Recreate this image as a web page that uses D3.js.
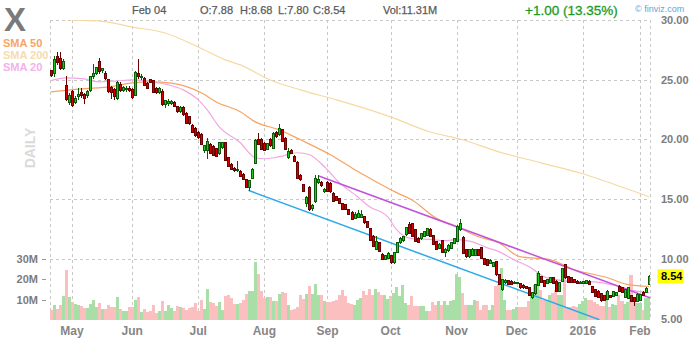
<!DOCTYPE html>
<html>
<head>
<meta charset="utf-8">
<script src="https://cdn.jsdelivr.net/npm/d3@7"></script>
<style>
  body { margin: 0; background: #fff; }
  svg { display: block; font-family: "Liberation Sans", Arial, sans-serif; }
</style>
</head>
<body>
<div id="chart"></div>
<script>
// daily candles, Apr 22 2015 .. Feb 04 2016, [open, high, low, close]
var ohlc = [
  [25.75,25.85,25.2,25.35],[25.5,27.0,25.25,26.65],[26.95,27.3,26.2,26.4],[26.8,27.3,25.8,25.9],[25.9,26.7,25.8,26.5],
  [24.5,25.3,23.2,23.35],[23.1,23.9,22.9,23.7],[24.0,24.1,22.7,22.85],[23.1,23.6,23.0,23.45],[23.6,24.3,23.3,23.75],
  [23.9,24.3,23.5,23.65],[23.75,23.9,22.95,23.45],[23.7,24.1,23.5,24.0],[24.1,25.3,24.0,25.25],[25.25,26.3,25.1,25.55],
  [25.55,26.1,25.4,26.05],[26.55,26.8,25.5,25.7],[25.75,26.0,25.6,25.9],[25.55,25.7,25.0,25.1],[25.0,25.1,23.9,24.0],
  [24.35,24.5,23.4,23.9],[24.2,24.3,23.3,23.6],[23.4,24.9,23.3,24.8],[24.6,24.8,24.0,24.1],[24.1,24.5,24.0,24.35],
  [24.15,24.45,24.0,24.3],[24.3,24.5,24.0,24.1],[24.15,24.3,23.4,23.55],[23.7,25.7,23.6,25.6],[25.5,26.75,25.1,25.25],
  [25.2,25.5,25.0,25.3],[25.1,25.2,24.5,24.55],[24.65,24.8,24.2,24.3],[25.0,25.1,24.7,24.8],[24.9,25.0,23.9,23.95],
  [24.3,24.4,23.8,23.9],[23.95,24.4,23.8,24.3],[24.05,24.2,22.8,22.95],[22.9,23.3,22.6,23.25],[23.0,23.4,22.8,23.2],
  [23.0,23.3,22.9,23.2],[23.1,23.2,22.7,22.75],[22.75,22.8,22.2,22.3],[22.3,22.8,22.2,22.7],[22.7,22.8,22.0,22.05],
  [22.2,22.3,21.3,21.35],[21.9,22.0,21.2,21.3],[21.2,21.3,20.5,20.6],[20.95,21.0,20.2,20.3],[20.6,20.7,20.0,20.15],
  [20.4,20.5,19.5,19.55],[19.1,19.5,18.9,19.45],[19.1,20.1,18.4,19.8],[19.55,19.7,18.8,18.85],[19.4,19.5,18.6,18.65],
  [19.2,19.3,18.5,18.6],[18.85,19.8,18.7,19.75],[19.35,19.8,19.2,19.7],[19.7,19.8,18.2,18.25],[18.45,18.5,17.7,17.75],
  [17.9,18.0,17.45,17.5],[17.6,17.7,17.3,17.4],[17.4,18.2,17.3,17.5],[17.3,17.4,16.85,16.9],[17.1,17.2,16.6,16.65],
  [16.6,16.7,15.9,16.0],[15.95,16.6,15.7,16.55],[16.75,17.6,16.7,17.5],[18.0,20.0,17.9,19.9],[20.0,20.5,19.55,19.6],
  [20.0,20.1,19.1,19.13],[19.69,19.8,19.0,19.07],[19.19,19.7,19.1,19.63],[19.97,20.1,19.4,19.46],[19.27,20.6,19.2,20.52],
  [20.58,20.7,20.1,20.24],[20.38,21.3,20.3,20.94],[20.8,20.9,19.8,19.83],[20.1,20.2,19.1,19.13],[18.5,19.3,18.4,18.99],
  [19.1,19.2,18.8,18.85],[18.57,18.7,18.1,18.15],[18.1,18.2,16.7,16.76],[16.96,17.1,16.55,16.62],[16.2,16.3,15.6,15.65],
  [14.6,15.3,14.3,15.1],[16.0,16.1,14.0,14.1],[14.25,14.6,14.0,14.5],[14.8,17.04,14.7,16.76],[16.4,17.0,16.3,16.68],
  [16.4,16.5,16.0,16.12],[15.6,15.9,15.5,15.8],[16.35,16.5,15.6,15.65],[16.3,16.4,15.5,15.6],[15.5,15.6,14.75,14.8],
  [15.2,15.3,14.8,14.9],[15.03,15.1,14.6,14.67],[14.6,14.7,14.05,14.1],[14.53,14.6,14.05,14.11],[14.1,14.2,13.65,13.7],
  [13.89,14.0,13.3,13.33],[13.4,13.9,13.3,13.7],[13.5,14.1,13.4,13.8],[13.45,14.1,13.4,13.75],[13.56,13.6,12.95,13.0],
  [13.14,13.2,12.6,12.64],[12.5,12.6,11.5,11.55],[11.9,12.0,11.0,11.05],[10.77,11.9,10.7,11.47],[11.33,11.4,10.6,10.63],
  [10.35,10.45,9.9,9.93],[9.95,10.35,9.9,10.3],[10.0,10.6,9.95,10.45],[10.27,10.35,9.6,9.71],[9.65,10.55,9.6,10.49],
  [10.55,11.4,10.5,11.33],[11.33,11.8,11.2,11.74],[11.5,11.95,11.4,11.85],[12.0,12.65,11.9,12.58],[12.86,13.1,12.1,12.16],
  [12.94,13.0,11.85,11.88],[12.44,12.5,11.4,11.47],[11.74,11.8,11.3,11.38],[11.74,12.2,11.6,12.16],[11.9,12.3,11.8,12.25],
  [11.95,12.6,11.9,12.5],[12.45,12.6,11.85,11.9],[11.94,12.0,11.15,11.19],[11.47,11.5,10.7,10.77],[10.85,11.3,10.8,11.2],
  [11.52,11.6,10.45,10.49],[10.55,10.9,10.15,10.8],[10.7,11.2,10.6,11.1],[10.9,11.4,10.8,11.33],[11.3,11.75,11.2,11.66],
  [11.47,12.8,11.4,12.72],[12.44,13.33,12.3,12.95],[11.8,11.9,10.4,10.45],[10.77,10.85,10.1,10.16],[10.2,10.85,10.1,10.8],
  [10.3,10.9,10.2,10.82],[10.25,10.85,10.2,10.8],[10.77,10.85,10.2,10.27],[10.91,11.0,9.95,9.99],[9.99,10.05,9.45,9.52],
  [9.93,10.0,9.4,9.43],[9.6,9.95,9.55,9.85],[9.38,9.75,9.3,9.65],[9.75,9.8,8.6,8.68],[8.68,8.75,7.8,7.84],
  [7.42,8.3,7.3,8.26],[8.0,8.3,7.9,8.2],[8.17,8.25,7.8,7.84],[8.1,8.2,7.8,7.86],[7.9,8.1,7.85,8.05],
  [7.95,8.05,7.9,8.0],[7.9,8.0,7.5,7.56],[7.8,7.85,7.5,7.56],[7.7,7.75,7.5,7.55],[7.56,7.6,6.85,6.92],
  [6.73,7.2,6.65,7.14],[7.09,7.9,7.0,7.84],[7.76,9.0,7.7,8.76],[8.48,8.55,8.0,8.04],[8.2,8.25,7.65,7.7],
  [7.9,8.35,7.85,8.3],[8.05,8.5,8.0,8.4],[8.4,8.5,7.9,7.95],[8.12,8.2,7.25,7.28],[7.28,8.05,7.2,7.98],
  [8.12,9.2,8.05,9.15],[9.51,9.6,8.35,8.4],[8.54,8.6,7.95,8.0],[8.4,8.45,7.95,8.0],[8.25,8.3,8.0,8.05],
  [8.1,8.2,7.85,7.9],[7.9,8.1,7.85,8.05],[7.9,8.15,7.85,8.1],[7.95,8.2,7.9,8.2],[8.1,8.2,7.8,7.85],
  [7.65,7.7,7.1,7.15],[7.42,7.5,6.8,6.87],[7.3,7.35,6.7,6.75],[7.09,7.15,6.35,6.53],[6.9,6.95,6.5,6.53],
  [6.59,7.35,6.55,7.28],[6.92,7.0,6.7,6.73],[6.87,7.3,6.8,7.28],[6.9,7.2,6.85,7.15],[7.7,7.8,7.2,7.28],
  [7.56,7.6,7.1,7.15],[6.73,7.5,6.7,7.42],[6.65,7.6,6.6,7.56],[6.9,7.0,6.4,6.45],[6.73,6.8,6.03,6.45],
  [6.45,7.1,6.4,7.01],[6.5,7.05,6.45,7.0],[7.2,7.3,6.9,6.95],[7.15,7.6,7.1,7.54],[7.88,8.68,7.80,8.54]
];

// daily volume, millions of shares
var volumes = [
  5,7.5,5.3,7.5,12,24.5,11.5,8.7,8,7.5, 7,6,6,8,10,6.5,8.5,5.5,5.5,7.5,
  6.5,6.5,11.5,5.5,4.5,4.2,6.5,6.5,10,11.5, 4,5.5,4,4.5,7.5,3.5,4.5,9.5,4.5,7.5,
  6,4.5,7,6.5,6,5,6,6.5,8.5,4.5, 10,5.5,15.5,9,8.5,7,9,5,12,12.5,
  11,8,8,8.5,10,13,14.5,14.5,28.8,22.5, 14.2,10.8,11.2,11.2,9.5,9.5,13,14,13.5,7.5,
  4.7,5.3,6.5,12.5,10.3,12.8,17,12.8,18,12.5, 12.5,9.2,8.7,8.7,9.2,9.7,12.2,15,11.7,8.3,
  8,7.5,9.7,10.8,14.2,12.5,15.5,12.5,15.5,14, 12.5,12.5,10.3,12,13.3,16.2,11.7,17.5,8.3,7.5,
  11.7,7,6.7,7,6.7,4.2,4.2,9,7.2,9.2, 7.5,9.2,7.5,9.2,10,22.5,21.3,13.3,7.5,7.5,
  7.5,10,9.5,5,7.5,7.5,5,7.5,16.7,18, 25.8,10,5,5,5.5,6.5,6.5,6.5,6.5,9.2,
  12.5,17.5,23,15,10,10,12.5,13.5,15,12.5, 12.5,21.7,6.5,6.5,7,6.5,8,9.2,10.8,10,
  10,9,8,7,7,14,6.5,8,7.5,12.5, 9.2,8,9,22,9.5,8.5,8.5,5,10.8,11.31
];

var monthLabels = ["May", "Jun", "Jul", "Aug", "Sep", "Oct", "Nov", "Dec", "2016", "Feb"];
var monthStart  = [7, 27, 49, 71, 92, 113, 135, 155, 177, 196];

var priceTicks = [5, 10, 15, 20, 25, 30];
var volTicks = [10, 20, 30];

// moving averages, [day index, price]
var sma20 = [[0,24.92],[5,25.15],[11,25.07],[16,24.82],[22,24.9],[27,24.98],[33,24.82],[39,24.57],[44,24.15],
  [49,23.31],[52,22.47],[56,21.05],[63,19.72],[68,18.46],[71,18.38],[76,18.55],[82,18.88],[86,18.71],[91,17.71],
  [96,16.37],[102,15.2],[106,14.36],[112,13.53],[115,12.44],[120,11.69],[127,11.61],[131,11.52],[135,11.61],
  [140,11.44],[145,10.94],[149,10.6],[154,9.93],[159,9.35],[164,8.51],[170,8.18],[174,8.09],[179,8.09],
  [183,8.01],[189,7.68],[194,7.34],[199,7.17]];
var sma50 = [[0,23.98],[10,24.23],[20,24.42],[27,24.73],[33,24.82],[40,24.71],[50,23.9],[55,23.14],[63,22.31],
  [68,21.47],[76,20.8],[83,19.97],[93,18.71],[100,17.63],[107,16.62],[115,15.54],[120,14.95],[128,13.44],
  [135,12.7],[142,11.87],[149,11.35],[156,10.18],[166,9.93],[174,9.1],[185,8.43],[192,7.84],[199,7.68]];
var sma200 = [[0,30.1],[7,30.0],[16,29.92],[27,29.41],[38,28.91],[49,27.74],[58,26.66],[63,26.24],[73,24.98],
  [83,24.15],[95,23.31],[113,21.89],[126,20.64],[137,19.97],[149,18.96],[163,18.04],[177,17.12],[183,16.62],
  [199,15.2]];

// channel trendlines
var trendLow  = [[65.7,15.73],[182.5,4.9]];
var trendHigh = [[88.9,16.96],[199.3,6.73]];

var lastClose = 8.54;

var width = 700, height = 340;
var plot = { left: 50, right: 650, top: 20, bottom: 320 };

var x  = d3.scaleLinear().domain([0, ohlc.length - 1]).range([51, 649]);
var y  = d3.scaleLinear().domain([5, 30]).range([318.5, 20]);
var yv = d3.scaleLinear().domain([0, 30]).range([320, 259.2]);

var svg = d3.select("#chart").append("svg")
  .attr("width", width)
  .attr("height", height);

svg.append("defs").append("clipPath").attr("id", "plotclip")
  .append("rect")
  .attr("x", plot.left).attr("y", plot.top)
  .attr("width", plot.right - plot.left).attr("height", plot.bottom - plot.top);

// grid
var grid = svg.append("g")
  .attr("stroke", "#c8c8c8")
  .attr("stroke-dasharray", "3,3")
  .attr("shape-rendering", "crispEdges");

grid.selectAll("line.h")
  .data(priceTicks.filter(function (d) { return d > 5; }))
  .enter().append("line")
  .attr("x1", plot.left).attr("x2", plot.right)
  .attr("y1", function (d) { return Math.round(y(d)) + 0.5; })
  .attr("y2", function (d) { return Math.round(y(d)) + 0.5; });

var vlines = [plot.left, plot.right].concat(monthStart.map(function (d) { return x(d); }));
grid.selectAll("line.v")
  .data(vlines)
  .enter().append("line")
  .attr("x1", function (d) { return Math.round(d) + 0.5; })
  .attr("x2", function (d) { return Math.round(d) + 0.5; })
  .attr("y1", plot.top).attr("y2", plot.bottom);

var chart = svg.append("g").attr("clip-path", "url(#plotclip)");

// volume
chart.append("g")
  .attr("shape-rendering", "crispEdges")
  .selectAll("rect")
  .data(volumes)
  .enter().append("rect")
  .attr("x", function (d, i) { return x(i) - 1.5; })
  .attr("width", 3.05)
  .attr("y", function (d) { return yv(d); })
  .attr("height", function (d) { return yv(0) - yv(d); })
  .attr("fill", function (d, i) { return ohlc[i][3] >= ohlc[i][0] ? "#a9dea6" : "#fbbfbf"; });

// moving averages
var maLine = d3.line()
  .x(function (d) { return x(d[0]); })
  .y(function (d) { return y(d[1]); })
  .curve(d3.curveMonotoneX);

[[sma200, "#f6d9a2"], [sma50, "#f8a262"], [sma20, "#f2a6e4"]].forEach(function (m) {
  chart.append("path")
    .datum(m[0])
    .attr("fill", "none")
    .attr("stroke", m[1])
    .attr("stroke-width", 1.2)
    .attr("d", maLine);
});

// trendlines
var tLine = d3.line()
  .x(function (d) { return x(d[0]); })
  .y(function (d) { return y(d[1]); });

chart.append("path").datum(trendLow)
  .attr("fill", "none").attr("stroke", "#2aa9e8").attr("stroke-width", 1.5)
  .attr("d", tLine);
chart.append("path").datum(trendHigh)
  .attr("fill", "none").attr("stroke", "#c052dc").attr("stroke-width", 1.5)
  .attr("d", tLine);

// candles
var candles = chart.append("g").attr("shape-rendering", "crispEdges")
  .selectAll("g")
  .data(ohlc)
  .enter().append("g");

candles.append("line")
  .attr("x1", function (d, i) { return Math.round(x(i)) + 0.5; })
  .attr("x2", function (d, i) { return Math.round(x(i)) + 0.5; })
  .attr("y1", function (d) { return y(d[1]); })
  .attr("y2", function (d) { return y(d[2]); })
  .attr("stroke", function (d) { return d[3] >= d[0] ? "#0a5a0a" : "#6b0000"; });

candles.append("rect")
  .attr("x", function (d, i) { return Math.round(x(i)) - 0.5; })
  .attr("width", 2)
  .attr("y", function (d) { return y(Math.max(d[0], d[3])); })
  .attr("height", function (d) { return Math.max(1, Math.abs(y(d[0]) - y(d[3]))); })
  .attr("fill", function (d) { return d[3] >= d[0] ? "#1ec81e" : "#d40000"; })
  .attr("stroke", function (d) { return d[3] >= d[0] ? "#0a5a0a" : "#6b0000"; })
  .attr("stroke-width", 1);

// price axis labels
svg.append("g").selectAll("text")
  .data(priceTicks)
  .enter().append("text")
  .attr("x", 661)
  .attr("y", function (d) { return y(d) + 4; })
  .attr("font-size", 11).attr("font-weight", "bold").attr("fill", "#7c7c7c")
  .text(function (d) { return d.toFixed(2); });

// last price marker
svg.append("rect")
  .attr("x", 657.5).attr("y", y(lastClose) - 7)
  .attr("width", 26).attr("height", 14)
  .attr("fill", "#ffff00");
svg.append("text")
  .attr("x", 661).attr("y", y(lastClose) + 4)
  .attr("font-size", 11).attr("font-weight", "bold").attr("fill", "#000")
  .text(lastClose.toFixed(2));

// volume axis labels
var vAxis = svg.append("g");
vAxis.selectAll("text")
  .data(volTicks)
  .enter().append("text")
  .attr("x", 38).attr("text-anchor", "end")
  .attr("y", function (d) { return yv(d) + 4; })
  .attr("font-size", 11).attr("font-weight", "bold").attr("fill", "#7c7c7c")
  .text(function (d) { return d + "M"; });
vAxis.selectAll("line")
  .data(volTicks)
  .enter().append("line")
  .attr("x1", 42).attr("x2", 46)
  .attr("y1", function (d) { return Math.round(yv(d)) + 0.5; })
  .attr("y2", function (d) { return Math.round(yv(d)) + 0.5; })
  .attr("stroke", "#9a9a9a");

// month labels
svg.append("g").selectAll("text")
  .data(monthStart)
  .enter().append("text")
  .attr("x", function (d) { return x(d); })
  .attr("y", 335)
  .attr("text-anchor", "middle")
  .attr("font-size", 12).attr("font-weight", "bold").attr("fill", "#868686")
  .text(function (d, i) { return monthLabels[i]; });

// header
svg.append("text").attr("x", 4).attr("y", 31)
  .attr("font-size", 33).attr("font-weight", "bold").attr("fill", "#7a7a7a")
  .text("X");

var hdr = [["Feb 04", 132], ["O:7.88", 200], ["H:8.68", 240], ["L:7.80", 278], ["C:8.54", 313], ["Vol:11.31M", 383]];
svg.append("g").selectAll("text")
  .data(hdr)
  .enter().append("text")
  .attr("x", function (d) { return d[1]; })
  .attr("y", 14)
  .attr("font-size", 11).attr("fill", "#5a5a5a")
  .attr("stroke", "#5a5a5a").attr("stroke-width", 0.25)
  .text(function (d) { return d[0]; });

svg.append("text").attr("x", 525).attr("y", 15)
  .attr("font-size", 13.5).attr("fill", "#1d9a1d")
  .attr("stroke", "#1d9a1d").attr("stroke-width", 0.3)
  .text("+1.00 (13.35%)");

svg.append("text").attr("x", 635).attr("y", 12)
  .attr("font-size", 9).attr("fill", "#5aa8e0")
  .text("\u00a9 finviz.com");

// legend
var legend = [["SMA 50", "#f8a468", 47], ["SMA 200", "#f6dcae", 59], ["SMA 20", "#f2b2ea", 71]];
svg.append("g").selectAll("text")
  .data(legend)
  .enter().append("text")
  .attr("x", 3)
  .attr("y", function (d) { return d[2]; })
  .attr("font-size", 11).attr("font-weight", "bold")
  .attr("fill", function (d) { return d[1]; })
  .text(function (d) { return d[0]; });

svg.append("text")
  .attr("transform", "translate(35,148) rotate(-90)")
  .attr("text-anchor", "middle")
  .attr("font-size", 14).attr("font-weight", "bold").attr("fill", "#dadada")
  .text("DAILY");
</script>
</body>
</html>
